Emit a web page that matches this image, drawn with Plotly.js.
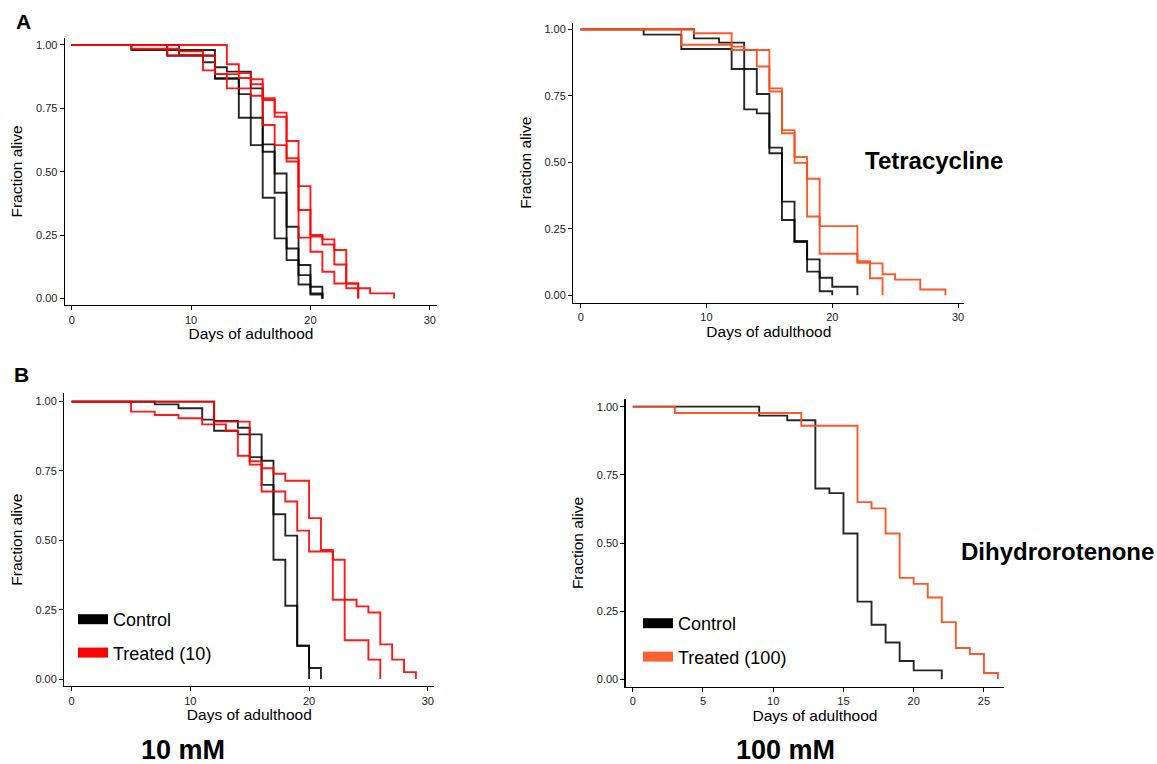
<!DOCTYPE html>
<html>
<head>
<meta charset="utf-8">
<script src="https://cdn.plot.ly/plotly-3.0.1.min.js"></script>
<style>html,body{margin:0;padding:0;background:#fff;}#chart{width:1157px;height:764px;}</style>
</head>
<body>
<div id="chart"></div>
<script>
// ---------- Panel A, 10 mM tetracycline (days, fraction alive) ----------
const aLeftCtrl1Days = [0, 5, 12, 13, 15, 16, 17, 18, 19, 20, 21];
const aLeftCtrl1Surv = [1, 0.98, 0.912, 0.895, 0.829, 0.608, 0.493, 0.283, 0.132, 0.046, 0];
const aLeftCtrl2Days = [0, 9, 11, 12, 14, 16, 17, 18, 19, 20, 21];
const aLeftCtrl2Surv = [1, 0.96, 0.932, 0.868, 0.713, 0.579, 0.417, 0.197, 0.092, 0.02, 0];
const aLeftCtrl3Days = [0, 8, 12, 14, 15, 16, 17, 18, 19, 20, 21];
const aLeftCtrl3Surv = [1, 0.957, 0.868, 0.806, 0.605, 0.397, 0.237, 0.151, 0.055, 0.015, 0];
const aLeftTrt1Days = [0, 13, 14, 15, 16, 17, 18, 19, 20, 21, 22, 23, 24];
const aLeftTrt1Surv = [1, 0.924, 0.889, 0.865, 0.79, 0.733, 0.621, 0.443, 0.25, 0.233, 0.191, 0.059, 0];
const aLeftTrt2Days = [0, 5, 9, 11, 12, 14, 15, 16, 17, 18, 19, 20, 21, 22, 23, 24];
const aLeftTrt2Surv = [1, 0.985, 0.975, 0.96, 0.885, 0.87, 0.845, 0.783, 0.717, 0.553, 0.349, 0.244, 0.213, 0.134, 0.04, 0];
const aLeftTrt3Days = [0, 8, 11, 12, 13, 15, 16, 17, 18, 19, 20, 21, 22, 24, 25, 27];
const aLeftTrt3Surv = [1, 0.96, 0.90, 0.885, 0.829, 0.80, 0.684, 0.605, 0.54, 0.24, 0.184, 0.105, 0.059, 0.04, 0.02, 0];

// ---------- Panel A, 100 mM tetracycline ----------
const aRightCtrl1Days = [0, 5, 8, 12, 14, 15, 16, 17, 18, 19, 20];
const aRightCtrl1Surv = [1, 0.98, 0.926, 0.851, 0.757, 0.534, 0.283, 0.204, 0.089, 0.015, 0];
const aRightCtrl2Days = [0, 9, 11, 13, 14, 15, 16, 17, 18, 19, 20, 22];
const aRightCtrl2Surv = [1, 0.966, 0.95, 0.699, 0.684, 0.555, 0.352, 0.2, 0.135, 0.066, 0.032, 0];
const aRightTrt1Days = [0, 9, 12, 15, 16, 17, 18, 19, 22, 23, 24];
const aRightTrt1Surv = [1, 0.985, 0.922, 0.778, 0.621, 0.52, 0.438, 0.26, 0.128, 0.064, 0];
const aRightTrt2Days = [0, 8, 12, 13, 14, 15, 16, 17, 18, 19, 22, 23, 24, 25, 27, 29];
const aRightTrt2Surv = [1, 0.942, 0.935, 0.922, 0.86, 0.766, 0.609, 0.498, 0.296, 0.156, 0.122, 0.12, 0.079, 0.059, 0.022, 0];

// ---------- Panel B, 10 mM dihydrorotenone ----------
const bLeftCtrl1Days = [0, 7, 9, 11, 12, 14, 16, 17, 18, 19, 20];
const bLeftCtrl1Surv = [1, 0.99, 0.976, 0.935, 0.895, 0.882, 0.70, 0.43, 0.264, 0.12, 0];
const bLeftCtrl2Days = [0, 12, 14, 15, 16, 17, 18, 19, 20, 21];
const bLeftCtrl2Surv = [1, 0.93, 0.906, 0.80, 0.787, 0.594, 0.517, 0.12, 0.04, 0];
const bLeftTrt1Days = [0, 5, 7, 9, 11, 13, 14, 15, 16, 18, 19, 20, 22, 23, 25, 26];
const bLeftTrt1Surv = [1, 0.964, 0.952, 0.94, 0.918, 0.895, 0.805, 0.773, 0.676, 0.64, 0.535, 0.46, 0.286, 0.14, 0.07, 0];
const bLeftTrt2Days = [0, 12, 15, 16, 17, 18, 20, 21, 22, 23, 24, 25, 26, 27, 28, 29];
const bLeftTrt2Surv = [1, 0.928, 0.785, 0.76, 0.74, 0.715, 0.58, 0.465, 0.43, 0.286, 0.262, 0.24, 0.125, 0.07, 0.025, 0];

// ---------- Panel B, 100 mM dihydrorotenone ----------
const bRightCtrlDays = [0, 9, 11, 13, 14, 15, 16, 17, 18, 19, 20, 22];
const bRightCtrlSurv = [1, 0.967, 0.95, 0.70, 0.683, 0.535, 0.285, 0.20, 0.135, 0.067, 0.033, 0];
const bRightTrtDays = [0, 3, 12, 16, 17, 18, 19, 20, 21, 22, 23, 24, 25, 26];
const bRightTrtSurv = [1, 0.977, 0.93, 0.65, 0.627, 0.535, 0.372, 0.35, 0.30, 0.21, 0.115, 0.093, 0.023, 0];

// ---------- labels ----------
const legendNames10 = ['Control', 'Treated (10)'];
const legendNames100 = ['Control', 'Treated (100)'];
const xTicks30 = [0, 10, 20, 30];
const xTicks25 = [0, 5, 10, 15, 20, 25];
const yTicks = [0, 0.25, 0.5, 0.75, 1];

const CTRL = 'rgba(0,0,0,0.85)';
const RED = 'rgba(255,0,0,0.9)';
const ORANGE = 'rgba(255,75,25,0.93)';
const ORANGE_SOLID = '#FF6133';
const FONT = 'Liberation Sans, Arial, sans-serif';

function step(x, y, color, xa, ya) {
  return {x: x, y: y, xaxis: xa, yaxis: ya, type: 'scatter', mode: 'lines',
    line: {shape: 'hv', color: color, width: 1.9}, showlegend: false, hoverinfo: 'skip'};
}
function legendItem(name, color, leg, grp) {
  return {x: [null], y: [null], type: 'scatter', mode: 'lines', name: name,
    line: {color: color, width: 14}, legend: leg, legendgroup: grp, showlegend: true,
    xaxis: leg === 'legend' ? 'x3' : 'x4', yaxis: leg === 'legend' ? 'y3' : 'y4'};
}

const data = [
  step(aLeftCtrl1Days, aLeftCtrl1Surv, CTRL, 'x', 'y'),
  step(aLeftCtrl2Days, aLeftCtrl2Surv, CTRL, 'x', 'y'),
  step(aLeftCtrl3Days, aLeftCtrl3Surv, CTRL, 'x', 'y'),
  step(aLeftTrt1Days, aLeftTrt1Surv, RED, 'x', 'y'),
  step(aLeftTrt2Days, aLeftTrt2Surv, RED, 'x', 'y'),
  step(aLeftTrt3Days, aLeftTrt3Surv, RED, 'x', 'y'),
  step(aRightCtrl1Days, aRightCtrl1Surv, CTRL, 'x2', 'y2'),
  step(aRightCtrl2Days, aRightCtrl2Surv, CTRL, 'x2', 'y2'),
  step(aRightTrt1Days, aRightTrt1Surv, ORANGE, 'x2', 'y2'),
  step(aRightTrt2Days, aRightTrt2Surv, ORANGE, 'x2', 'y2'),
  step(bLeftCtrl1Days, bLeftCtrl1Surv, CTRL, 'x3', 'y3'),
  step(bLeftCtrl2Days, bLeftCtrl2Surv, CTRL, 'x3', 'y3'),
  step(bLeftTrt1Days, bLeftTrt1Surv, RED, 'x3', 'y3'),
  step(bLeftTrt2Days, bLeftTrt2Surv, RED, 'x3', 'y3'),
  step(bRightCtrlDays, bRightCtrlSurv, CTRL, 'x4', 'y4'),
  step(bRightTrtDays, bRightTrtSurv, ORANGE, 'x4', 'y4'),
  legendItem(legendNames10[0], '#000000', 'legend', 'c10'),
  legendItem(legendNames10[1], '#FF0000', 'legend', 't10'),
  legendItem(legendNames100[0], '#000000', 'legend2', 'c100'),
  legendItem(legendNames100[1], ORANGE_SOLID, 'legend2', 't100')
];

const W = 1157, H = 764;
function xdom(a, b) { return [a / W, b / W]; }
function ydom(top, bottom) { return [1 - bottom / H, 1 - top / H]; }

function xAxis(dom, range, ticks, anchor) {
  return {domain: dom, range: range, anchor: anchor, tickvals: ticks, ticktext: ticks.map(String),
    showline: true, linecolor: '#000', linewidth: 1.3, ticks: 'outside', ticklen: 4, tickwidth: 1,
    tickcolor: '#000', showgrid: false, zeroline: false,
    tickfont: {family: FONT, size: 11, color: '#222'},
    title: {text: 'Days of adulthood', font: {family: FONT, size: 15.5, color: '#000'}, standoff: 1}};
}
function yAxis(dom, range, anchor) {
  return {domain: dom, range: range, anchor: anchor, tickvals: yTicks, ticktext: yTicks.map(v => v.toFixed(2)),
    showline: true, linecolor: '#000', linewidth: 1.3, ticks: 'outside', ticklen: 4, tickwidth: 1,
    tickcolor: '#000', showgrid: false, zeroline: false,
    tickfont: {family: FONT, size: 11, color: '#222'},
    title: {text: 'Fraction alive', font: {family: FONT, size: 15.5, color: '#000'}, standoff: 9}};
}

function ann(text, px, py, size) {
  return {text: text, x: px / W, y: 1 - py / H, xref: 'paper', yref: 'paper', showarrow: false,
    xanchor: 'center', yanchor: 'middle', font: {family: FONT, size: size, color: '#000', weight: 'bold'}};
}

const layout = {
  width: W, height: H, margin: {l: 0, r: 0, t: 0, b: 0},
  paper_bgcolor: '#fff', plot_bgcolor: '#fff',
  xaxis: xAxis(xdom(65, 437), [-0.56, 30.6], xTicks30, 'y'),
  yaxis: yAxis(ydom(38, 305), [-0.026, 1.0276], 'x'),
  xaxis2: xAxis(xdom(573.3, 964.3), [-0.59, 30.5], xTicks30, 'y2'),
  yaxis2: yAxis(ydom(22.7, 302.7), [-0.0278, 1.0248], 'x2'),
  xaxis3: xAxis(xdom(64.3, 434.3), [-0.62, 30.55], xTicks30, 'y3'),
  yaxis3: yAxis(ydom(393.3, 686), [-0.025, 1.03], 'x3'),
  xaxis4: xAxis(xdom(625.7, 1004.3), [-0.5, 26.45], xTicks25, 'y4'),
  yaxis4: yAxis(ydom(399.3, 686.7), [-0.027, 1.027], 'x4'),
  legend: {x: 73 / W, y: 1 - 601 / H, xanchor: 'left', yanchor: 'top', bgcolor: 'rgba(0,0,0,0)',
    font: {family: FONT, size: 18, color: '#000'}, itemwidth: 30, tracegroupgap: 7, borderwidth: 0},
  legend2: {x: 638 / W, y: 1 - 605 / H, xanchor: 'left', yanchor: 'top', bgcolor: 'rgba(0,0,0,0)',
    font: {family: FONT, size: 18, color: '#000'}, itemwidth: 30, tracegroupgap: 7, borderwidth: 0},
  annotations: [
    ann('A', 23, 21, 21),
    ann('B', 22, 375, 21),
    ann('Tetracycline', 934, 160, 24),
    ann('Dihydrorotenone', 1057, 551, 24),
    ann('10 mM', 183, 750, 27),
    ann('100 mM', 785, 750, 27)
  ]
};

Plotly.newPlot('chart', data, layout, {staticPlot: true, displayModeBar: false});
</script>
</body>
</html>
